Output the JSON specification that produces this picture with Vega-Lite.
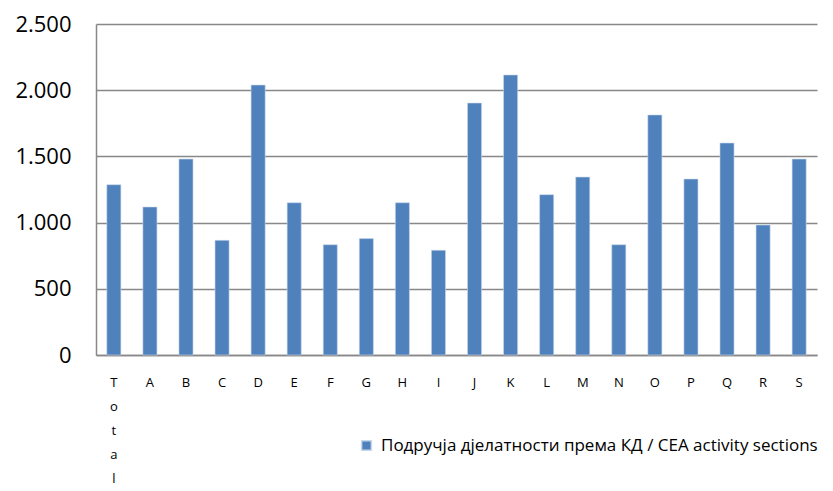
{
  "$schema": "https://vega.github.io/schema/vega-lite/v6.json",
  "width": 721,
  "height": 331,
  "autosize": "none",
  "padding": {"left": 96, "top": 24, "right": 16, "bottom": 136},
  "background": "white",
  "config": {"view": {"stroke": null}, "font": "Open Sans"},
  "data": {
    "values": [
      {"section": "Total", "value": 1286, "series": "Подручја дјелатности према КД / CEA activity sections"},
      {"section": "A", "value": 1118, "series": "Подручја дјелатности према КД / CEA activity sections"},
      {"section": "B", "value": 1480, "series": "Подручја дјелатности према КД / CEA activity sections"},
      {"section": "C", "value": 866, "series": "Подручја дјелатности према КД / CEA activity sections"},
      {"section": "D", "value": 2039, "series": "Подручја дјелатности према КД / CEA activity sections"},
      {"section": "E", "value": 1150, "series": "Подручја дјелатности према КД / CEA activity sections"},
      {"section": "F", "value": 833, "series": "Подручја дјелатности према КД / CEA activity sections"},
      {"section": "G", "value": 879, "series": "Подручја дјелатности према КД / CEA activity sections"},
      {"section": "H", "value": 1150, "series": "Подручја дјелатности према КД / CEA activity sections"},
      {"section": "I", "value": 791, "series": "Подручја дјелатности према КД / CEA activity sections"},
      {"section": "J", "value": 1903, "series": "Подручја дјелатности према КД / CEA activity sections"},
      {"section": "K", "value": 2115, "series": "Подручја дјелатности према КД / CEA activity sections"},
      {"section": "L", "value": 1211, "series": "Подручја дјелатности према КД / CEA activity sections"},
      {"section": "M", "value": 1344, "series": "Подручја дјелатности према КД / CEA activity sections"},
      {"section": "N", "value": 833, "series": "Подручја дјелатности према КД / CEA activity sections"},
      {"section": "O", "value": 1813, "series": "Подручја дјелатности према КД / CEA activity sections"},
      {"section": "P", "value": 1329, "series": "Подручја дјелатности према КД / CEA activity sections"},
      {"section": "Q", "value": 1601, "series": "Подручја дјелатности према КД / CEA activity sections"},
      {"section": "R", "value": 982, "series": "Подручја дјелатности према КД / CEA activity sections"},
      {"section": "S", "value": 1480, "series": "Подручја дјелатности према КД / CEA activity sections"}
    ]
  },
  "mark": {"type": "bar", "stroke": "#c9d7ea", "strokeWidth": 0.6},
  "encoding": {
    "x": {
      "field": "section",
      "type": "nominal",
      "sort": null,
      "scale": {"paddingInner": 0.61, "paddingOuter": 0.3},
      "axis": {
        "title": null,
        "labelAngle": 0,
        "labelFontSize": 13,
        "labelColor": "#000000",
        "labelFont": "Open Sans",
        "labelPadding": 21,
        "labelLineHeight": 24,
        "labelBaseline": "top",
        "labelExpr": "datum.value == 'Total' ? ['T','o','t','a','l'] : datum.value",
        "ticks": false,
        "domainColor": "#888888",
        "domainWidth": 1.5
      }
    },
    "y": {
      "field": "value",
      "type": "quantitative",
      "scale": {"domain": [0, 2500], "nice": false},
      "axis": {
        "title": null,
        "values": [0, 500, 1000, 1500, 2000, 2500],
        "labelExpr": "replace(format(datum.value, ','), ',', '.')",
        "labelFontSize": 22,
        "labelColor": "#000000",
        "labelFont": "Open Sans",
        "labelPadding": 25,
        "ticks": false,
        "domainColor": "#888888",
        "domainWidth": 1.5,
        "gridColor": "#888888",
        "gridWidth": 1.5
      }
    },
    "color": {
      "field": "series",
      "type": "nominal",
      "scale": {"range": ["#4F81BD"]},
      "legend": {
        "title": null,
        "orient": "none",
        "legendX": 262,
        "legendY": 413,
        "symbolType": "square",
        "symbolSize": 95,
        "symbolOffset": 0,
        "labelFontSize": 17,
        "labelOffset": 6,
        "labelFont": "Open Sans",
        "labelColor": "#000000",
        "labelLimit": 600
      }
    }
  }
}
